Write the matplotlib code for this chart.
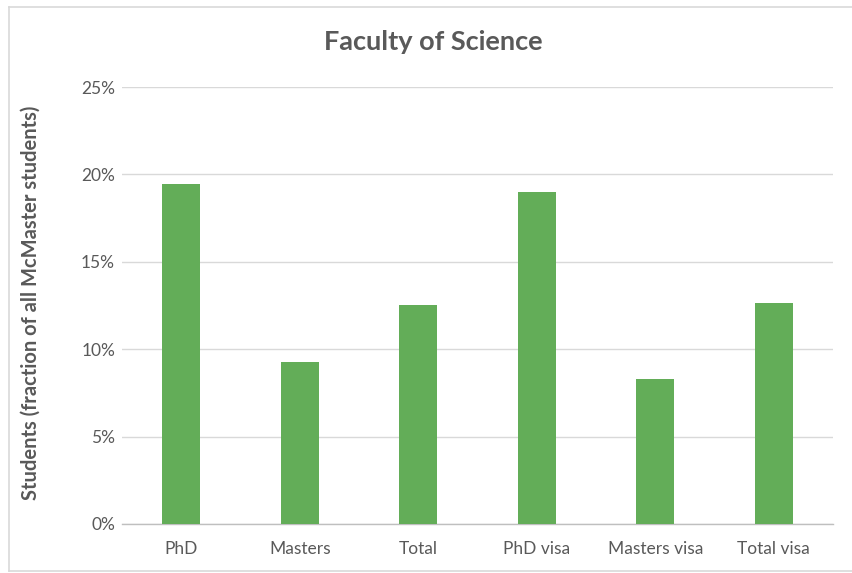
import matplotlib
matplotlib.use("Agg")
import matplotlib.pyplot as plt
from matplotlib.ticker import FuncFormatter
from matplotlib.lines import Line2D

categories = ["PhD", "Masters", "Total", "PhD visa", "Masters visa", "Total visa"]
values = [0.1945, 0.0927, 0.1253, 0.1899, 0.0830, 0.1264]
yticks = [0, 0.05, 0.10, 0.15, 0.20, 0.25]

plt.rcParams['font.family'] = ['Lato', 'DejaVu Sans']
W, H = 853, 573
fig = plt.figure(figsize=(W / 100, H / 100), dpi=100)
ax = fig.add_axes([122 / W, 1 - 524 / H, (833 - 122) / W, (524 - 87) / H])

text_col = '#595959'
ax.bar(range(len(categories)), values, width=0.32, color='#63ad58', zorder=3)
ax.set_xlim(-0.5, len(categories) - 0.5)
ax.set_ylim(0, 0.25)
ax.set_yticks(yticks)
ax.yaxis.set_major_formatter(FuncFormatter(lambda v, p: f"{v*100:.0f}%"))
ax.set_xticks(range(len(categories)))
ax.set_xticklabels(categories)
ax.grid(axis='y', color='#d9d9d9', linewidth=1.0, zorder=0)
for s in ['top', 'right', 'left']:
    ax.spines[s].set_visible(False)
ax.spines['bottom'].set_color('#bfbfbf')
ax.spines['bottom'].set_linewidth(1.0)
ax.tick_params(axis='both', length=0, colors=text_col, labelsize=12.5)
ax.tick_params(axis='y', pad=5)
ax.tick_params(axis='x', pad=12)

fig.text(433 / W, 1 - 42 / H, "Faculty of Science", ha='center', va='center',
         fontsize=19.5, fontweight='bold', color=text_col)
fig.text(31 / W, 1 - 303 / H, "Students (fraction of all McMaster students)",
         rotation=90, ha='center', va='center', fontsize=14.5, fontweight='bold', color=text_col)

frame_col = '#d9d9d9'
fig.add_artist(Line2D([9 / W, 1], [1 - 7 / H, 1 - 7 / H], color=frame_col, lw=1.2, transform=fig.transFigure))
fig.add_artist(Line2D([9 / W, 9 / W], [1 - 7 / H, 1 - 571 / H], color=frame_col, lw=1.2, transform=fig.transFigure))
fig.add_artist(Line2D([9 / W, 1], [1 - 571 / H, 1 - 571 / H], color=frame_col, lw=1.2, transform=fig.transFigure))

fig.savefig("out.png", dpi=100)
